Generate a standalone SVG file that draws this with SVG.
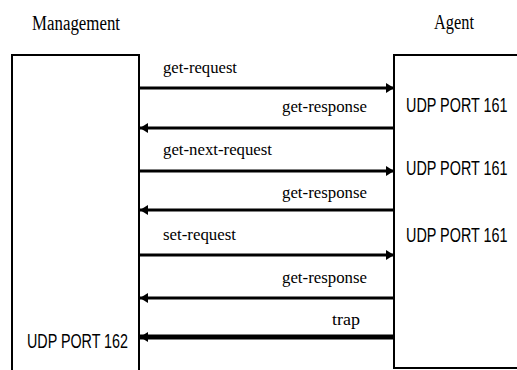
<svg xmlns="http://www.w3.org/2000/svg" width="517" height="370" viewBox="0 0 517 370">
<style>
.bg{fill:#fff}
.box{fill:none;stroke:#000;stroke-width:2}
.msg{stroke:#000;stroke-width:3;fill:none}
.trap{stroke:#000;stroke-width:5;fill:none}
.ser{font-family:"Liberation Serif","Times New Roman",serif;fill:#000}
.title{font-size:20px}
.lbl{font-size:17px}
.port{font-family:"Liberation Sans",Arial,sans-serif;font-size:20px;fill:#000}
</style>
<defs>
<marker id="ah" markerUnits="userSpaceOnUse" markerWidth="9" markerHeight="10" refX="8" refY="5" orient="auto">
<path d="M0,0 L8,5 L0,10 z" fill="#000"/>
</marker>
</defs>
<rect class="bg" x="0" y="0" width="517" height="370"/>
<g id="management">
<text class="ser title" x="32" y="30" textLength="88" lengthAdjust="spacingAndGlyphs">Management</text>
<rect class="box" x="12" y="55" width="127" height="330"/>
<text class="port" x="27" y="348" textLength="101" lengthAdjust="spacingAndGlyphs">UDP PORT 162</text>
</g>
<g id="agent">
<text class="ser title" x="434" y="29" textLength="40" lengthAdjust="spacingAndGlyphs">Agent</text>
<rect class="box" x="394" y="55" width="140" height="313"/>
<text class="port" transform="translate(406,112) scale(0.72,1)" x="0" y="0">UDP PORT 161</text>
<text class="port" transform="translate(406,175) scale(0.72,1)" x="0" y="0">UDP PORT 161</text>
<text class="port" transform="translate(406,242) scale(0.72,1)" x="0" y="0">UDP PORT 161</text>
</g>
<g id="connectors">
<line class="msg" x1="140" y1="88" x2="394" y2="88" marker-end="url(#ah)"/>
<text class="ser lbl" x="163" y="73" textLength="74" lengthAdjust="spacingAndGlyphs">get-request</text>
<line class="msg" x1="394" y1="128" x2="140" y2="128" marker-end="url(#ah)"/>
<text class="ser lbl" x="282" y="112" textLength="85" lengthAdjust="spacingAndGlyphs">get-response</text>
<line class="msg" x1="140" y1="171" x2="394" y2="171" marker-end="url(#ah)"/>
<text class="ser lbl" x="163" y="155" textLength="109" lengthAdjust="spacingAndGlyphs">get-next-request</text>
<line class="msg" x1="394" y1="210" x2="140" y2="210" marker-end="url(#ah)"/>
<text class="ser lbl" x="282" y="198" textLength="85" lengthAdjust="spacingAndGlyphs">get-response</text>
<line class="msg" x1="140" y1="255" x2="394" y2="255" marker-end="url(#ah)"/>
<text class="ser lbl" x="163" y="240" textLength="73" lengthAdjust="spacingAndGlyphs">set-request</text>
<line class="msg" x1="394" y1="298" x2="140" y2="298" marker-end="url(#ah)"/>
<text class="ser lbl" x="282" y="283" textLength="85" lengthAdjust="spacingAndGlyphs">get-response</text>
<line class="trap" x1="394" y1="337" x2="140" y2="337" marker-end="url(#ah)"/>
<text class="ser lbl" x="332" y="325" textLength="28" lengthAdjust="spacingAndGlyphs">trap</text>
</g>
</svg>
